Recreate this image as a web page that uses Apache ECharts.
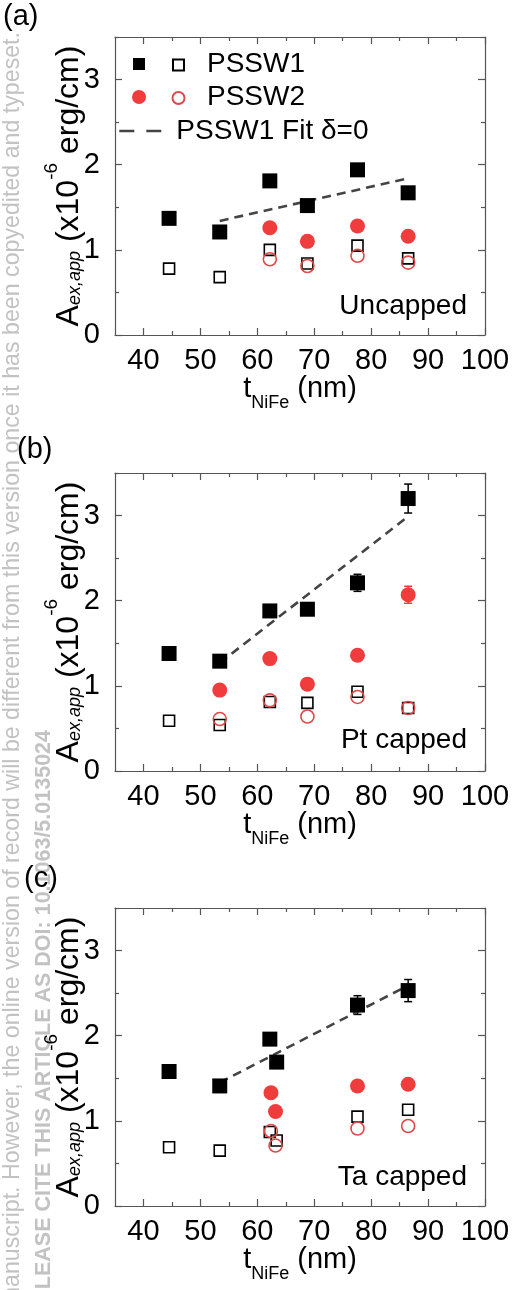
<!DOCTYPE html>
<html><head><meta charset="utf-8">
<script src="https://cdn.jsdelivr.net/npm/echarts@6/dist/echarts.min.js"></script>
<style>html,body{margin:0;padding:0;background:#fff}#c{width:514px;height:1290px}</style>
</head><body><div id="c"></div>
<script>
const FONT = "'Liberation Sans', Arial, sans-serif";

// ---- axis ticks ----
const xTickValues = [40, 50, 60, 70, 80, 90, 100];
const xTickLabels = ['40', '50', '60', '70', '80', '90', '100'];
const xMinorTicks = [45, 55, 65, 75, 85, 95];
const yTickValues = [0, 1, 2, 3];
const yTickLabels = ['0', '1', '2', '3'];
const yMinorTicks = [0.5, 1.5, 2.5, 3.5];

// ---- panel (a) Uncapped ----
const a_x1 = [44.5, 53.4, 62.2, 68.8, 77.6, 86.5];
const a_pssw1Filled = [1.37, 1.21, 1.81, 1.52, 1.94, 1.67];
const a_pssw1Err = [0.04, 0.04, 0.05, 0.05, 0.07, 0.05];
const a_pssw1Open = [0.78, 0.68, 1.00, 0.84, 1.05, 0.90];
const a_x2 = [62.2, 68.8, 77.6, 86.5];
const a_pssw2Filled = [1.26, 1.10, 1.28, 1.16];
const a_pssw2Err = [0.03, 0.03, 0.04, 0.03];
const a_pssw2Open = [0.89, 0.81, 0.93, 0.85];
const a_fitX = [53.4, 86.5];
const a_fitY = [1.34, 1.84];

// ---- panel (b) Pt capped ----
const b_x1 = [44.5, 53.4, 62.2, 68.8, 77.6, 86.5];
const b_pssw1Filled = [1.38, 1.29, 1.88, 1.90, 2.21, 3.20];
const b_pssw1Err = [0.04, 0.04, 0.06, 0.06, 0.10, 0.17];
const b_pssw1Open = [0.59, 0.54, 0.81, 0.80, 0.93, 0.74];
const b_x2 = [53.4, 62.2, 68.8, 77.6, 86.5];
const b_pssw2Filled = [0.95, 1.32, 1.02, 1.36, 2.07];
const b_pssw2Err = [0.03, 0.04, 0.04, 0.04, 0.10];
const b_pssw2Open = [0.61, 0.83, 0.64, 0.87, 0.74];
const b_fitX = [53.4, 86.5];
const b_fitY = [1.27, 2.99];

// ---- panel (c) Ta capped ----
const c_x1 = [44.5, 53.4, 62.2, 63.4, 77.6, 86.5];
const c_pssw1Filled = [1.58, 1.41, 1.96, 1.69, 2.36, 2.53];
const c_pssw1Err = [0.04, 0.04, 0.06, 0.06, 0.11, 0.13];
const c_pssw1Open = [0.69, 0.65, 0.87, 0.77, 1.05, 1.13];
const c_x2 = [62.4, 63.2, 77.6, 86.5];
const c_pssw2Filled = [1.33, 1.11, 1.41, 1.43];
const c_pssw2Err = [0.03, 0.03, 0.04, 0.04];
const c_pssw2Open = [0.88, 0.71, 0.91, 0.94];
const c_fitX = [53.4, 86.5];
const c_fitY = [1.45, 2.59];

const panelLabels = ['(a)', '(b)', '(c)'];
const panelNotes = ['Uncapped', 'Pt capped', 'Ta capped'];
const watermark1 = "This is the author\u2019s peer reviewed, accepted manuscript. However, the online version of record will be different from this version once it has been copyedited and typeset.";
const watermark2 = "PLEASE CITE THIS ARTICLE AS DOI: 10.1063/5.0135024";

const panels = [
  {x1: a_x1, f1: a_pssw1Filled, e1: a_pssw1Err, o1: a_pssw1Open, x2: a_x2, f2: a_pssw2Filled, e2: a_pssw2Err, o2: a_pssw2Open, fx: a_fitX, fy: a_fitY},
  {x1: b_x1, f1: b_pssw1Filled, e1: b_pssw1Err, o1: b_pssw1Open, x2: b_x2, f2: b_pssw2Filled, e2: b_pssw2Err, o2: b_pssw2Open, fx: b_fitX, fy: b_fitY},
  {x1: c_x1, f1: c_pssw1Filled, e1: c_pssw1Err, o1: c_pssw1Open, x2: c_x2, f2: c_pssw2Filled, e2: c_pssw2Err, o2: c_pssw2Open, fx: c_fitX, fy: c_fitY}
];

// ---- layout ----
const gridTops = [37, 473, 908];
const GL = 115, GW = 370, GH = 298;
const AX = '#555555';
const RED = '#f03c3c';
const RED_OPEN = '#e04848';

const zip = (xs, ys) => xs.map((x, i) => [x, ys[i]]);

function xAxesFor(g) {
  const line = {color: AX, width: 1.2};
  const base = {gridIndex: g, type: 'value', min: 35, max: 100, splitLine: {show: false},
    axisLabel: {show: false}, axisLine: {show: false, onZero: false}};
  return [
    Object.assign({}, base, {
      position: 'bottom',
      axisLine: {show: true, onZero: false, lineStyle: line},
      axisTick: {show: true, inside: true, length: 7, customValues: xTickValues, lineStyle: line},
      axisLabel: {show: true, customValues: xTickValues, margin: 11, fontSize: 29, fontFamily: FONT, color: '#000',
        formatter: v => xTickLabels[xTickValues.indexOf(v)] || ''},
      name: '{m|t}{s|NiFe}{m| (nm)}', nameLocation: 'middle', nameGap: 34, nameMoveOverlap: false,
      nameTextStyle: {rich: {
        m: {fontSize: 29, fontFamily: FONT, color: '#000', lineHeight: 40},
        s: {fontSize: 18, fontFamily: FONT, color: '#000', verticalAlign: 'bottom', height: 11}
      }}
    }),
    Object.assign({}, base, {position: 'bottom',
      axisTick: {show: true, inside: true, length: 4, customValues: xMinorTicks, lineStyle: line}}),
    Object.assign({}, base, {position: 'top',
      axisLine: {show: true, onZero: false, lineStyle: line},
      axisTick: {show: true, inside: true, length: 7, customValues: xTickValues, lineStyle: line}}),
    Object.assign({}, base, {position: 'top',
      axisTick: {show: true, inside: true, length: 4, customValues: xMinorTicks, lineStyle: line}})
  ];
}

function yAxesFor(g) {
  const line = {color: AX, width: 1.2};
  const base = {gridIndex: g, type: 'value', min: 0, max: 3.5, splitLine: {show: false},
    axisLabel: {show: false}, axisLine: {show: false, onZero: false}};
  return [
    Object.assign({}, base, {
      position: 'left',
      axisLine: {show: true, onZero: false, lineStyle: line},
      axisTick: {show: true, inside: true, length: 7, customValues: yTickValues, lineStyle: line},
      axisLabel: {show: true, customValues: yTickValues, margin: 15, fontSize: 29, fontFamily: FONT, color: '#000',
        formatter: v => yTickLabels[yTickValues.indexOf(v)] || ''},
      name: '{m|A}{s|ex,app}{m| (x10}{p|-6}{m| erg/cm)}', nameLocation: 'middle', nameGap: 24, nameMoveOverlap: false,
      nameTextStyle: {rich: {
        m: {fontSize: 32, fontFamily: FONT, color: '#000', lineHeight: 44},
        s: {fontSize: 18, fontFamily: FONT, fontStyle: 'italic', color: '#000', verticalAlign: 'bottom', height: 32},
        p: {fontSize: 19, fontFamily: FONT, color: '#000', verticalAlign: 'top', height: 10}
      }}
    }),
    Object.assign({}, base, {position: 'left',
      axisTick: {show: true, inside: true, length: 4, customValues: yMinorTicks, lineStyle: line}}),
    Object.assign({}, base, {position: 'right',
      axisLine: {show: true, onZero: false, lineStyle: line},
      axisTick: {show: true, inside: true, length: 7, customValues: yTickValues, lineStyle: line}}),
    Object.assign({}, base, {position: 'right',
      axisTick: {show: true, inside: true, length: 4, customValues: yMinorTicks, lineStyle: line}})
  ];
}

function errorSeries(g, xs, ys, errs, color) {
  return {
    type: 'custom', name: 'err', xAxisIndex: 4 * g, yAxisIndex: 4 * g, silent: true, z: 1,
    data: xs.map((x, i) => [x, ys[i], errs[i]]),
    renderItem(params, api) {
      const x = api.value(0), y = api.value(1), e = api.value(2);
      const p1 = api.coord([x, y + e]), p2 = api.coord([x, y - e]);
      const w = 4, st = {stroke: color, lineWidth: 1.5};
      return {type: 'group', children: [
        {type: 'line', shape: {x1: p1[0], y1: p1[1], x2: p2[0], y2: p2[1]}, style: st},
        {type: 'line', shape: {x1: p1[0] - w, y1: p1[1], x2: p1[0] + w, y2: p1[1]}, style: st},
        {type: 'line', shape: {x1: p2[0] - w, y1: p2[1], x2: p2[0] + w, y2: p2[1]}, style: st}
      ]};
    }
  };
}

const xAxis = [], yAxis = [], grid = [], series = [];
panels.forEach((p, g) => {
  grid.push({left: GL, top: gridTops[g], width: GW, height: GH});
  xAxis.push(...xAxesFor(g));
  yAxis.push(...yAxesFor(g));
  const ax = {xAxisIndex: 4 * g, yAxisIndex: 4 * g};
  series.push(errorSeries(g, p.x1, p.f1, p.e1, '#000'));
  series.push(errorSeries(g, p.x2, p.f2, p.e2, RED));
  series.push(Object.assign({type: 'scatter', name: 'PSSW1', symbol: 'rect', symbolSize: 11, z: 2,
    itemStyle: {color: 'rgba(255,255,255,0)', borderColor: '#000', borderWidth: 1.6, opacity: 1}, data: zip(p.x1, p.o1)}, ax));
  series.push(Object.assign({type: 'scatter', name: 'PSSW2', symbol: 'circle', symbolSize: 13, z: 2,
    itemStyle: {color: 'rgba(255,255,255,0)', borderColor: RED_OPEN, borderWidth: 1.6, opacity: 1}, data: zip(p.x2, p.o2)}, ax));
  series.push(Object.assign({type: 'line', name: 'PSSW1 Fit \u03b4=0', symbol: 'none', showSymbol: false, z: 2,
    itemStyle: {color: '#444'},
    lineStyle: {color: '#444', width: 2.6, type: [9, 6]}, data: zip(p.fx, p.fy)}, ax));
  series.push(Object.assign({type: 'scatter', name: 'PSSW2 filled', symbol: 'circle', symbolSize: 15, z: 3,
    itemStyle: {color: RED, opacity: 1}, data: zip(p.x2, p.f2)}, ax));
  series.push(Object.assign({type: 'scatter', name: 'PSSW1 filled', symbol: 'rect', symbolSize: 15, z: 3,
    itemStyle: {color: '#000', opacity: 1}, data: zip(p.x1, p.f1)}, ax));
});

const legText = {fontSize: 28, fontFamily: FONT, color: '#000', lineHeight: 30};
const legEmpty = {fontSize: 10, fontFamily: FONT, lineHeight: 10};
const iconOnly = (name, left, top, size) => ({data: [name], left, top, itemWidth: size, itemHeight: size,
  padding: 0, selectedMode: false, formatter: () => '', textStyle: legEmpty});
const textOnly = (name, left, top) => ({data: [{name, icon: 'none'}], left, top, itemWidth: 1, itemHeight: 1,
  padding: 0, selectedMode: false, textStyle: legText, itemStyle: {opacity: 0}});
const legend = [
  iconOnly('PSSW1 filled', 133, 58, 12),
  iconOnly('PSSW1', 172, 58.5, 11),
  textOnly('PSSW1', 201, 49),
  iconOnly('PSSW2 filled', 132, 90, 14),
  iconOnly('PSSW2', 171.5, 91, 12),
  textOnly('PSSW2', 201, 82),
  {data: ['PSSW1 Fit \u03b4=0'], left: 118, top: 116, itemWidth: 52, itemHeight: 14, padding: 0, selectedMode: false,
    textStyle: legText, itemStyle: {opacity: 0}, lineStyle: {type: [15, 12], width: 2.6, color: '#444'}}
];

const labelY = [18, 451, 880];
const labelX = [3, 17, 24];
const noteY = [306, 740, 1177];
const graphic = [];
panelLabels.forEach((t, i) => graphic.push({type: 'text', left: labelX[i], top: labelY[i] - 16, z: 10,
  style: {text: t, font: '29px ' + FONT, fill: '#000'}}));
panelNotes.forEach((t, i) => graphic.push({type: 'text', x: 467, y: noteY[i], z: 10,
  style: {text: t, font: '28px ' + FONT, fill: '#000', align: 'right', verticalAlign: 'middle'}}));
graphic.push({type: 'text', x: 13, y: 32, rotation: Math.PI / 2, z: -1,
  style: {text: watermark1, font: '23.2px ' + FONT, fill: '#c2c2c2', align: 'right', verticalAlign: 'middle'}});
graphic.push({type: 'text', x: 44, y: 730, rotation: Math.PI / 2, z: -1,
  style: {text: watermark2, font: 'bold 21.5px ' + FONT, fill: '#c2c2c2', align: 'right', verticalAlign: 'middle'}});

const chart = echarts.init(document.getElementById('c'), null, {renderer: 'canvas'});
chart.setOption({
  animation: false,
  backgroundColor: '#fff',
  grid, xAxis, yAxis, series, legend, graphic
});
</script></body></html>
